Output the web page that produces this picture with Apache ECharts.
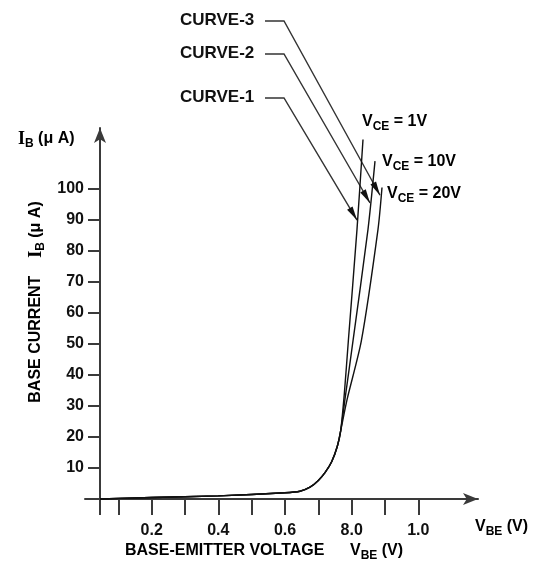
<!DOCTYPE html>
<html>
<head>
<meta charset="utf-8">
<script src="https://cdn.jsdelivr.net/npm/echarts@6/dist/echarts.min.js"></script>
<style>
  html, body { margin: 0; background: #fff; }
  #chart { width: 541px; height: 563px; }
</style>
</head>
<body>
<div id="chart"></div>
<script>
// low part, same for all three curves
const kneeVbe = [0.045, 0.2, 0.4, 0.6, 0.645, 0.675, 0.7, 0.72, 0.74, 0.757, 0.767]
const kneeIb = [0, 0.5, 1, 2, 2.5, 3.8, 6, 8.5, 12, 17, 22]
// upper part, one per V_CE
const curve1Vbe = [0.778, 0.79, 0.816, 0.834]
const curve1Ib = [34, 51, 87, 116]
const curve2Vbe = [0.781, 0.804, 0.849, 0.87]
const curve2Ib = [33, 51, 87, 109]
const curve3Vbe = [0.786, 0.829, 0.879, 0.891]
const curve3Ib = [32, 51, 87, 100.5]

const xTickValues = [0.045, 0.1, 0.2, 0.3, 0.4, 0.5, 0.6, 0.7, 0.8, 0.9, 1.0]
const xLabelValues = [0.2, 0.4, 0.6, 0.8, 1.0]
const xLabelTexts = ['0.2', '0.4', '0.6', '8.0', '1.0']
const yTickValues = [10, 20, 30, 40, 50, 60, 70, 80, 90, 100]

const curveNames = ['CURVE-1', 'CURVE-2', 'CURVE-3']
const vceLabels = ['1V', '10V', '20V']
// where the CURVE-n arrows hit the curves (V_BE, I_B)
const arrowVbe = [0.816, 0.855, 0.885]
const arrowIb = [90, 95.5, 98]

const zip = (xs, ys) => xs.map((x, i) => [x, ys[i]])
const curves = [
  zip(kneeVbe.concat(curve1Vbe), kneeIb.concat(curve1Ib)),
  zip(kneeVbe.concat(curve2Vbe), kneeIb.concat(curve2Ib)),
  zip(kneeVbe.concat(curve3Vbe), kneeIb.concat(curve3Ib))
]

const ink = '#111'
const font = 'Liberation Sans, Arial, sans-serif'
const rich = {
  t: { fontFamily: font, fontWeight: 'bold', fontSize: 16, color: ink },
  s: { fontFamily: font, fontWeight: 'bold', fontSize: 12, color: ink, padding: [9, 0, 0, 0] },
  i: { fontFamily: 'Liberation Serif, Times New Roman, serif', fontWeight: 'bold', fontSize: 18, color: ink }
}

const chart = echarts.init(document.getElementById('chart'))
chart.setOption({
  animation: false,
  backgroundColor: '#fff',
  grid: { left: 85, right: 63, top: 128, bottom: 64 },
  xAxis: {
    type: 'value',
    min: 0,
    max: 1.179,
    splitLine: { show: false },
    axisLine: { lineStyle: { color: '#3a3a3a', width: 2 }, symbol: ['none', 'arrow'], symbolSize: [9, 15] },
    axisTick: { customValues: xTickValues, length: 16, lineStyle: { color: '#3a3a3a', width: 2 } },
    axisLabel: {
      customValues: xLabelValues,
      margin: 24,
      fontFamily: font, fontWeight: 'bold', fontSize: 16, color: ink,
      formatter: v => xLabelTexts[xLabelValues.findIndex(x => Math.abs(x - v) < 1e-6)]
    }
  },
  yAxis: {
    type: 'value',
    min: 0,
    max: 119.7,
    offset: -15,
    splitLine: { show: false },
    axisLine: { lineStyle: { color: '#3a3a3a', width: 2 }, symbol: ['none', 'arrow'], symbolSize: [9, 15] },
    axisTick: { customValues: yTickValues, length: 12, lineStyle: { color: '#3a3a3a', width: 2 } },
    axisLabel: { customValues: yTickValues, margin: 16, fontFamily: font, fontWeight: 'bold', fontSize: 16, color: ink }
  },
  series: curves.map((d, i) => ({
    name: curveNames[i],
    type: 'line',
    data: d,
    showSymbol: false,
    smooth: 0.25,
    clip: false,
    lineStyle: { color: ink, width: 1.4 }
  }))
})

// leader lines and arrowheads for CURVE-n labels
const labelY = [98, 54, 21]
const graphics = []
curveNames.forEach((name, i) => {
  const tip = chart.convertToPixel({ gridIndex: 0 }, [arrowVbe[i], arrowIb[i]])
  const knee = [284, labelY[i]]
  graphics.push({
    type: 'text', left: 180, top: labelY[i] - 9,
    style: { text: name, font: 'bold 17px ' + font, fill: ink }
  })
  graphics.push({
    type: 'polyline',
    shape: { points: [[265, labelY[i]], knee, tip] },
    style: { stroke: '#333', lineWidth: 1.4, fill: null }
  })
  const dx = tip[0] - knee[0], dy = tip[1] - knee[1]
  const len = Math.hypot(dx, dy)
  const ux = dx / len, uy = dy / len
  const bx = tip[0] - ux * 14, by = tip[1] - uy * 14
  graphics.push({
    type: 'polygon',
    shape: { points: [tip, [bx - uy * 3.2, by + ux * 3.2], [bx + uy * 3.2, by - ux * 3.2]] },
    style: { fill: '#111' }
  })
})

// V_CE labels at curve tops
const vcePos = [[362, 122], [382, 162], [387, 194]]
vceLabels.forEach((v, i) => {
  graphics.push({
    type: 'text', x: vcePos[i][0], y: vcePos[i][1],
    style: { text: '{t|V}{s|CE}{t| = ' + v + '}', rich: rich, verticalAlign: 'middle' }
  })
})

graphics.push(
  { type: 'text', x: 18, y: 139, style: { text: '{i|I}{s|B}{t| (μ A)}', rich: rich, verticalAlign: 'middle' } },
  { type: 'text', x: 475, y: 527, style: { text: '{t|V}{s|BE}{t| (V)}', rich: rich, verticalAlign: 'middle' } },
  { type: 'text', x: 125, y: 551, style: { text: '{t|BASE-EMITTER VOLTAGE}', rich: rich, verticalAlign: 'middle' } },
  { type: 'text', x: 350, y: 551, style: { text: '{t|V}{s|BE}{t| (V)}', rich: rich, verticalAlign: 'middle' } },
  {
    type: 'text', x: 36, y: 302, rotation: Math.PI / 2,
    style: { text: '{t|BASE CURRENT}{t|    }{i|I}{s|B}{t| (μ A)}', rich: rich, align: 'center', verticalAlign: 'middle' }
  },
  // short stub of the x axis left of the y axis
  { type: 'line', shape: { x1: 85, y1: 499, x2: 100, y2: 499 }, style: { stroke: '#3a3a3a', lineWidth: 2 } }
)
chart.setOption({ graphic: graphics })
</script>
</body>
</html>
